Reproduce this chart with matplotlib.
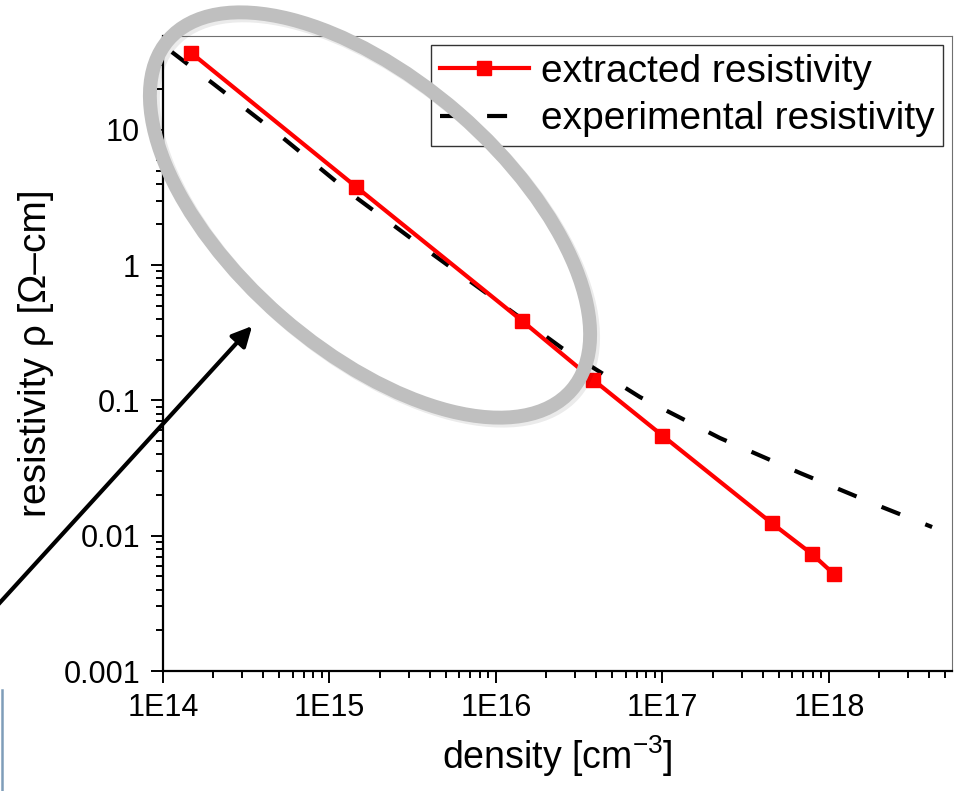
import numpy as np
import matplotlib.pyplot as plt
import matplotlib.patches as patches
from matplotlib.transforms import Affine2D
from matplotlib.lines import Line2D

plt.rcParams['font.family'] = ['Liberation Sans', 'DejaVu Sans']
plt.rcParams['mathtext.fontset'] = 'custom'
plt.rcParams['mathtext.rm'] = 'Liberation Sans'

# extracted resistivity (red squares)
ext_density = [1.47e14, 1.44e15, 1.43e16, 3.84e16, 1.0e17, 4.53e17, 7.9e17, 1.07e18]
ext_rho = [37.3, 3.81, 0.389, 0.142, 0.055, 0.0124, 0.00733, 0.00521]

# experimental resistivity (dashed curve)
exp_density = [1.13e14, 2.05e14, 5.26e14, 1.38e15, 3.64e15, 9.6e15, 2.49e16,
               7.32e16, 2.21e17, 6.7e17, 2.08e18, 4.16e18]
exp_rho = [37.7, 21.5, 8.73, 3.30, 1.36, 0.573, 0.244, 0.106, 0.0528, 0.0291,
           0.0163, 0.0116]

x_ticks = [1e14, 1e15, 1e16, 1e17, 1e18]
x_labels = ['1E14', '1E15', '1E16', '1E17', '1E18']
y_ticks = [1e-3, 1e-2, 1e-1, 1, 10]
y_labels = ['0.001', '0.01', '0.1', '1', '10']

W, H = 957, 791
fig = plt.figure(figsize=(W / 100, H / 100), dpi=100)
ax = fig.add_axes([163 / W, 1 - 671 / H, (952 - 163) / W, (671 - 36) / H])

ax.plot(ext_density, ext_rho, color='#ff0000', lw=3.0, marker='s', ms=10,
        label='extracted resistivity', zorder=3)
ax.plot(exp_density, exp_rho, color='black', lw=3.0, dashes=(4.8, 6.5),
        label='experimental resistivity', zorder=2)

ax.set_xscale('log')
ax.set_yscale('log')
ax.set_xlim(1e14, 5.48e18)
ax.set_ylim(1e-3, 49.5)
ax.set_xticks(x_ticks, x_labels)
ax.set_yticks(y_ticks, y_labels)
ax.tick_params(which='major', direction='out', length=8.5, width=1.4,
               labelsize=22, top=False, right=False)
ax.tick_params(axis='x', which='major', pad=7)
ax.tick_params(axis='y', which='major', pad=8)
ax.tick_params(which='minor', direction='out', length=5, width=1.4,
               top=False, right=False)

for s in ['left', 'bottom']:
    ax.spines[s].set_linewidth(1.6)
for s in ['top', 'right']:
    ax.spines[s].set_linewidth(0.8)
    ax.spines[s].set_color('#707070')

ax.set_xlabel('density [cm$^{-3}$]', fontsize=27, labelpad=8)
ax.set_ylabel('resistivity \u03c1 [\u03a9\u2013cm]', fontsize=28, labelpad=7)

leg = ax.legend(loc='upper right', bbox_to_anchor=(943 / W, 1 - 45 / H),
                bbox_transform=fig.transFigure, borderaxespad=0, fontsize=28,
                fancybox=False, numpoints=1, handlelength=2.3,
                handletextpad=0.3, borderpad=0.22, labelspacing=0.3)
leg.get_frame().set_edgecolor('black')
leg.get_frame().set_linewidth(1.0)

# slide overlays in pixel coordinates (origin bottom-left)
px = Affine2D().scale(1 / W, 1 / H) + fig.transFigure
shadow = patches.Ellipse((373, H - 218), 534, 270, angle=-41, fill=False,
                         ec='#000000', lw=10, alpha=0.08, transform=px, zorder=9)
fig.add_artist(shadow)
ring = patches.Ellipse((370, H - 215), 534, 270, angle=-41, fill=False,
                       ec='#bfbfbf', lw=10, transform=px, zorder=10)
fig.add_artist(ring)

arrow = patches.FancyArrowPatch((-5, H - 608), (254, H - 324),
                                arrowstyle='-|>', mutation_scale=30,
                                color='black', lw=3.0, transform=px, zorder=11)
fig.add_artist(arrow)

fig.add_artist(Line2D([2, 2], [0, H - 690], color='#7f9db9', lw=1.8,
                      transform=px))

plt.savefig('out.png', dpi=100)
